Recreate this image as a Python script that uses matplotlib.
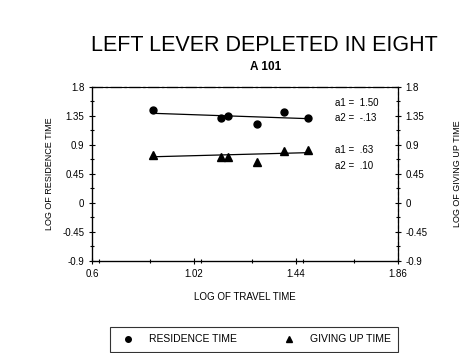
import matplotlib
matplotlib.use('Agg')
import matplotlib.pyplot as plt
from matplotlib.ticker import MultipleLocator

plt.rcParams['font.family'] = ['Liberation Sans', 'DejaVu Sans']

# data (log10 scale)
travel = [0.85, 1.13, 1.16, 1.28, 1.39, 1.49]
residence = [1.44, 1.32, 1.35, 1.22, 1.41, 1.32]
givingup = [0.74, 0.71, 0.71, 0.63, 0.81, 0.82]
res_fit = (1.50, -0.13)   # a1, a2
gup_fit = (0.63, 0.10)
xticks = [0.6, 1.02, 1.44, 1.86]
yticks = [-0.9, -0.45, 0, 0.45, 0.9, 1.35, 1.8]
yticklabels = ['-0.9', '-0.45', '0', '0.45', '0.9', '1.35', '1.8']

fig = plt.figure(figsize=(4.72, 3.53), dpi=100)
ax = fig.add_axes([0.195, 0.261, 0.648, 0.493])

ax.plot(travel, residence, 'o', color='black', ms=5)
ax.plot(travel, givingup, '^', color='black', ms=6)
x0, x1 = min(travel), max(travel)
ax.plot([x0, x1], [res_fit[0] + res_fit[1]*x0, res_fit[0] + res_fit[1]*x1], color='black', lw=0.9)
ax.plot([x0, x1], [gup_fit[0] + gup_fit[1]*x0, gup_fit[0] + gup_fit[1]*x1], color='black', lw=0.9)

ax.set_xlim(0.6, 1.86); ax.set_ylim(-0.9, 1.8)
ax.set_xticks(xticks); ax.set_xticklabels(['0.6', '1.02', '1.44', '1.86'], fontsize=7)
ax.set_yticks(yticks); ax.set_yticklabels(yticklabels, fontsize=7)
ax.xaxis.set_minor_locator(MultipleLocator(0.21))
ax.yaxis.set_minor_locator(MultipleLocator(0.225))
ax.tick_params(axis='both', direction='inout', length=4, width=0.8)
ax.tick_params(which='minor', direction='inout', length=3, width=0.8)
ax.set_xlabel('LOG OF TRAVEL TIME', fontsize=7, labelpad=10)
ax.set_ylabel('LOG OF RESIDENCE TIME', fontsize=6.5, labelpad=6)
for s in ax.spines.values():
    s.set_linewidth(0.9)
ax.spines['top'].set_linestyle((0, (8, 3, 1, 3)))

ax2 = ax.twinx()
ax2.set_ylim(-0.9, 1.8)
ax2.set_yticks(yticks); ax2.set_yticklabels(yticklabels, fontsize=7)
ax2.yaxis.set_minor_locator(MultipleLocator(0.225))
ax2.tick_params(axis='y', direction='inout', length=4, width=0.8)
ax2.tick_params(which='minor', direction='inout', length=3, width=0.8)
ax2.spines['right'].set_linestyle((0, (2, 3)))
ax2.set_ylabel('LOG OF GIVING UP TIME', fontsize=6.5, rotation=90, labelpad=18)

ax.text(1.6, 1.55, 'a1 =  1.50', fontsize=7, va='center')
ax.text(1.6, 1.32, 'a2 =  -.13', fontsize=7, va='center')
ax.text(1.6, 0.82, 'a1 =  .63', fontsize=7, va='center')
ax.text(1.6, 0.57, 'a2 =  .10', fontsize=7, va='center')

fig.text(0.56, 0.872, 'LEFT LEVER DEPLETED IN EIGHT', fontsize=15.5, ha='center', va='center')
fig.text(0.562, 0.81, 'A 101', fontsize=8.5, fontweight='bold', ha='center', va='center')

h1, = ax.plot([], [], 'o', color='black', ms=4)
h2, = ax.plot([], [], '^', color='black', ms=5)
leg = fig.legend([h1, h2], ['RESIDENCE TIME', 'GIVING UP TIME'], ncol=2, fontsize=7.5,
                 loc='upper center', bbox_to_anchor=(0.538, 0.088), frameon=True,
                 fancybox=False, edgecolor='black', handlelength=2.0, columnspacing=4.0,
                 borderpad=0.7, handletextpad=1.0)
leg.get_frame().set_linewidth(0.8)

fig.savefig('out.png', dpi=100)
